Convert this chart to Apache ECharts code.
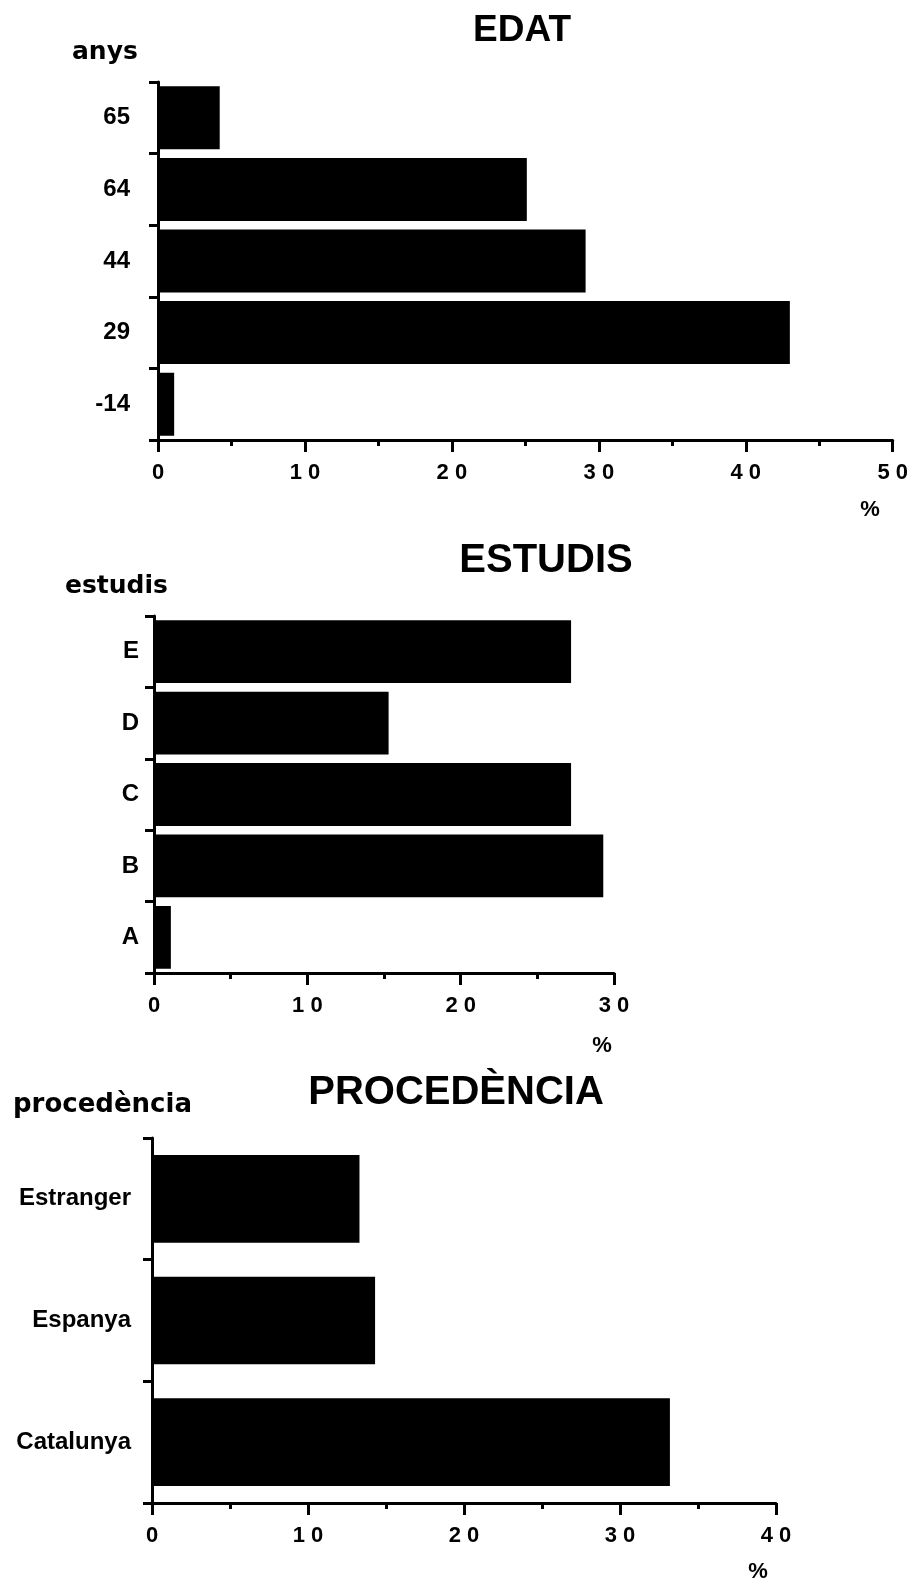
<!DOCTYPE html>
<html>
<head>
<meta charset="utf-8">
<script src="https://cdn.jsdelivr.net/npm/echarts@6/dist/echarts.min.js"></script>
<style>
html,body{margin:0;padding:0;background:#fff;}
#chart{width:911px;height:1581px;}
</style>
</head>
<body>
<div id="chart"></div>
<script>
// ---- Data ----
const edatCategories = ['-14', '29', '44', '64', '65'];
const edatValues = [1.1, 43.0, 29.1, 25.1, 4.2];

const estudisCategories = ['A', 'B', 'C', 'D', 'E'];
const estudisValues = [1.1, 29.3, 27.2, 15.3, 27.2];

const procedenciaCategories = ['Catalunya', 'Espanya', 'Estranger'];
const procedenciaValues = [33.2, 14.3, 13.3];

const titles = ['EDAT', 'ESTUDIS', 'PROCEDÈNCIA'];
const axisNames = ['anys', 'estudis', 'procedència'];
const xMax = [50, 30, 40];

// ---- Styling ----
const FONT = '"Liberation Sans", Arial, Helvetica, sans-serif';
const chart = echarts.init(document.getElementById('chart'), null, {renderer: 'canvas'});

const grids = [
  {left: 158, top: 82, width: 737, height: 358},
  {left: 154, top: 616, width: 460, height: 357},
  {left: 152, top: 1138, width: 624, height: 365}
];
const labelMargins = [28, 15, 21];
const gaps = ['12%', '12%', '28%'];
const cats = [edatCategories, estudisCategories, procedenciaCategories];
const vals = [edatValues, estudisValues, procedenciaValues];

const spaced = v => String(v).split('').join(' ');

const xAxes = grids.map((g, i) => ({
  type: 'value', gridIndex: i, min: 0, max: xMax[i], interval: 10,
  axisLine: {show: true, onZero: false, lineStyle: {color: '#000', width: 3}},
  axisTick: {show: true, inside: false, length: 12, lineStyle: {color: '#000', width: 3}},
  minorTick: {show: true, splitNumber: 2, length: 6, lineStyle: {color: '#000', width: 3}},
  splitLine: {show: false},
  axisLabel: {margin: 22, color: '#000', fontFamily: FONT, fontWeight: 'bold', fontSize: 22, formatter: spaced}
}));

const yAxes = grids.map((g, i) => ({
  type: 'category', gridIndex: i, data: cats[i],
  axisLine: {show: true, lineStyle: {color: '#000', width: 3}},
  axisTick: {show: true, length: 9, alignWithLabel: false, lineStyle: {color: '#000', width: 3}},
  axisLabel: {margin: labelMargins[i], color: '#000', fontFamily: FONT, fontWeight: 'bold', fontSize: 24}
}));

const series = grids.map((g, i) => ({
  type: 'bar', xAxisIndex: i, yAxisIndex: i, data: vals[i],
  barCategoryGap: gaps[i], itemStyle: {color: '#000'}, silent: true
}));

const titlePos = [[522, 31], [546, 561], [456, 1093]];
const titleSizes = [37, 40, 40];
const namePos = [[72, 52], [65, 586], [13, 1105]];
const nameSizes = [25, 25, 26];
const pctPos = [[870, 510], [602, 1046], [758, 1572]];

const graphics = [];
titles.forEach((t, i) => {
  graphics.push({type: 'text', x: titlePos[i][0], y: titlePos[i][1],
    style: {text: t, fill: '#000', font: 'bold ' + titleSizes[i] + 'px ' + FONT, textAlign: 'center', textVerticalAlign: 'middle'}});
});
axisNames.forEach((t, i) => {
  graphics.push({type: 'text', x: namePos[i][0], y: namePos[i][1],
    style: {text: t, fill: '#000', font: 'bold ' + nameSizes[i] + 'px "DejaVu Sans", ' + FONT, textAlign: 'left', textVerticalAlign: 'middle'}});
});
pctPos.forEach(p => {
  graphics.push({type: 'text', x: p[0], y: p[1],
    style: {text: '%', fill: '#000', font: 'bold 22px ' + FONT, textAlign: 'center', textVerticalAlign: 'middle'}});
});

chart.setOption({
  backgroundColor: '#fff',
  animation: false,
  grid: grids,
  xAxis: xAxes,
  yAxis: yAxes,
  series: series,
  graphic: graphics
});
</script>
</body>
</html>
